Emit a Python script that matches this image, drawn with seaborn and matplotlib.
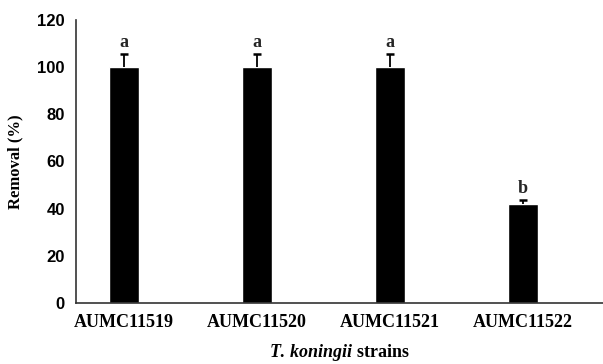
import matplotlib
matplotlib.use("Agg")
import matplotlib.pyplot as plt
import seaborn as sns
import pandas as pd

strains = ["AUMC11519", "AUMC11520", "AUMC11521", "AUMC11522"]
removal = [100, 100, 100, 42]
errors = [5.5, 5.5, 5.5, 1.5]
letters = ["a", "a", "a", "b"]

sns.set_theme(style="white")
plt.rcParams['mathtext.fontset'] = 'custom'
plt.rcParams['mathtext.it'] = 'Liberation Serif:italic:bold'
plt.rcParams['mathtext.rm'] = 'Liberation Serif:bold'

df = pd.DataFrame({"strain": strains, "removal": removal})

fig = plt.figure(figsize=(6.03, 3.64), dpi=100)
ax = fig.add_axes([0.126, 0.168, 0.874, 0.777])
sns.barplot(data=df, x="strain", y="removal", color="black", width=0.23,
            errorbar=None, ax=ax, saturation=1)
xs = list(range(len(strains)))
_, caps, _ = ax.errorbar(xs, removal, yerr=[[0]*len(errors), errors], fmt="none",
                         ecolor="black", elinewidth=1.3, capsize=3, capthick=1.8)
caps[0].set_visible(False)
for x, v, e, l in zip(xs, removal, errors, letters):
    ax.text(x, v + e + 1.5, l, ha="center", va="bottom",
            fontfamily="Liberation Serif", fontweight="bold", fontsize=13)

ax.set_xlim(-0.36, 3.6)
ax.set_ylim(0, 120)
ax.set_yticks(range(0, 121, 20))
for s in ["top", "right"]:
    ax.spines[s].set_visible(False)
for s in ["left", "bottom"]:
    ax.spines[s].set_color("#333333")
    ax.spines[s].set_linewidth(1.2)
ax.tick_params(axis="both", length=0, pad=8)
for t in ax.get_yticklabels():
    t.set_fontfamily("Liberation Sans")
    t.set_fontweight("bold")
    t.set_fontsize(12)
    t.set_color("black")
for t in ax.get_xticklabels():
    t.set_fontfamily("Liberation Serif")
    t.set_fontweight("bold")
    t.set_fontsize(13)
    t.set_color("black")
ax.set_ylabel("Removal (%)", fontfamily="Liberation Serif", fontweight="bold",
              fontsize=12, color="black", labelpad=10)
ax.set_xlabel(r"$\it{T.\,koningii}$ strains", fontfamily="Liberation Serif",
              fontweight="bold", fontsize=13, color="black", labelpad=8)
fig.savefig("out.png", dpi=100)
